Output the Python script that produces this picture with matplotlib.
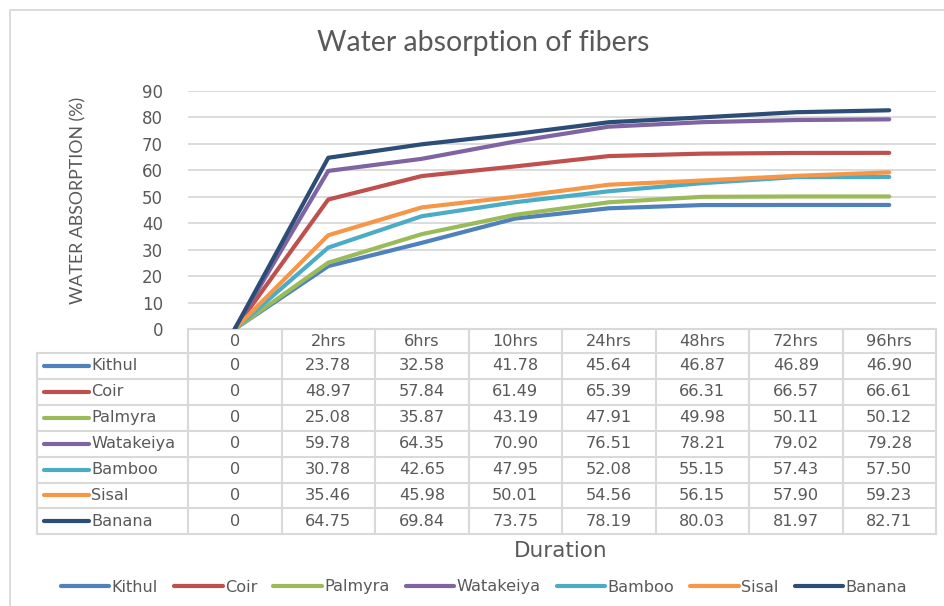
import matplotlib.pyplot as plt
from matplotlib.lines import Line2D

durations = ["0", "2hrs", "6hrs", "10hrs", "24hrs", "48hrs", "72hrs", "96hrs"]
fibers = ["Kithul", "Coir", "Palmyra", "Watakeiya", "Bamboo", "Sisal", "Banana"]
kithul = [0, 23.78, 32.58, 41.78, 45.64, 46.87, 46.89, 46.90]
coir = [0, 48.97, 57.84, 61.49, 65.39, 66.31, 66.57, 66.61]
palmyra = [0, 25.08, 35.87, 43.19, 47.91, 49.98, 50.11, 50.12]
watakeiya = [0, 59.78, 64.35, 70.90, 76.51, 78.21, 79.02, 79.28]
bamboo = [0, 30.78, 42.65, 47.95, 52.08, 55.15, 57.43, 57.50]
sisal = [0, 35.46, 45.98, 50.01, 54.56, 56.15, 57.90, 59.23]
banana = [0, 64.75, 69.84, 73.75, 78.19, 80.03, 81.97, 82.71]
series = [kithul, coir, palmyra, watakeiya, bamboo, sisal, banana]
colors = ["#4F81BD", "#C0504D", "#9BBB59", "#8064A2", "#4BACC6", "#F79646", "#2C4D75"]

W, H = 944, 606
TXT = "#595959"
GRID = "#d9d9d9"
fig = plt.figure(figsize=(W / 100, H / 100), dpi=100)

# pixel-space overlay for frame and table grid
lay = fig.add_axes([0, 0, 1, 1])
lay.set_xlim(0, W)
lay.set_ylim(H, 0)
lay.axis("off")

# plot area
x0, x1, ytop, ybot = 188, 936, 91, 329
ax = fig.add_axes([x0 / W, 1 - ybot / H, (x1 - x0) / W, (ybot - ytop) / H])
ax.patch.set_alpha(0)
for i, (name, vals) in enumerate(zip(fibers, series)):
    ax.plot(range(len(durations)), vals, color=colors[i], lw=3.0,
            solid_capstyle="round", solid_joinstyle="round", label=name, zorder=3)
ax.set_xlim(-0.5, len(durations) - 0.5)
ax.set_ylim(0, 90)
ax.set_yticks(range(0, 91, 10))
ax.set_xticks([])
ax.grid(axis="y", color=GRID, lw=1.3)
ax.set_axisbelow(True)
for s in ax.spines.values():
    s.set_visible(False)
ax.tick_params(axis="y", length=0, pad=18, labelsize=12, labelcolor=TXT)

# outer chart frame (cropped on right and bottom)
lay.plot([10, 10, W], [H, 10, 10], color=GRID, lw=1.3)

# data table
colw = (x1 - x0) / len(durations)
label_left = 37
row_top = [329, 353] + [353 + 25.9 * (k + 1) for k in range(len(fibers))]
tkw = dict(color=GRID, lw=1.5, zorder=1)
lay.plot([x0, x1], [row_top[0], row_top[0]], **tkw)
for y in row_top[1:]:
    lay.plot([label_left, x1], [y, y], **tkw)
for j in range(len(durations) + 1):
    lay.plot([x0 + j * colw] * 2, [row_top[0], row_top[-1]], **tkw)
lay.plot([label_left] * 2, [row_top[1], row_top[-1]], **tkw)

tfont = dict(family="DejaVu Sans", size=11.6, color=TXT, va="center")
for j, d in enumerate(durations):
    lay.text(x0 + (j + 0.5) * colw, (row_top[0] + row_top[1]) / 2, d, ha="center", **tfont)
for i, (name, vals) in enumerate(zip(fibers, series)):
    yc = (row_top[i + 1] + row_top[i + 2]) / 2
    lay.plot([44, 89], [yc, yc], color=colors[i], lw=3.0, solid_capstyle="round")
    lay.text(91, yc, name, ha="left", **tfont)
    for j, v in enumerate(vals):
        s = "0" if v == 0 else f"{v:.2f}"
        lay.text(x0 + (j + 0.5) * colw, yc, s, ha="center", **tfont)

# titles
lay.text(483, 43, "Water absorption of fibers", ha="center", va="center",
         fontsize=20.5, color=TXT, family="Lato")
lay.text(561, 551, "Duration", ha="center", va="center",
         fontsize=15.5, color=TXT, family="DejaVu Sans")
lay.text(78, 200, "WATER ABSORPTION (%)", ha="center", va="center", rotation=90,
         fontsize=12.8, color=TXT, family="Lato")

# legend
handles = [Line2D([], [], color=c, lw=3.0, solid_capstyle="round") for c in colors]
leg = fig.legend(handles, fibers, loc="center", bbox_to_anchor=(484 / W, 1 - 587 / H),
                 ncol=len(fibers), frameon=False, handlelength=3.0, handletextpad=0.15,
                 columnspacing=1.0, prop={"family": "DejaVu Sans", "size": 11.6})
for t in leg.get_texts():
    t.set_color(TXT)

fig.savefig("out.png", dpi=100)
